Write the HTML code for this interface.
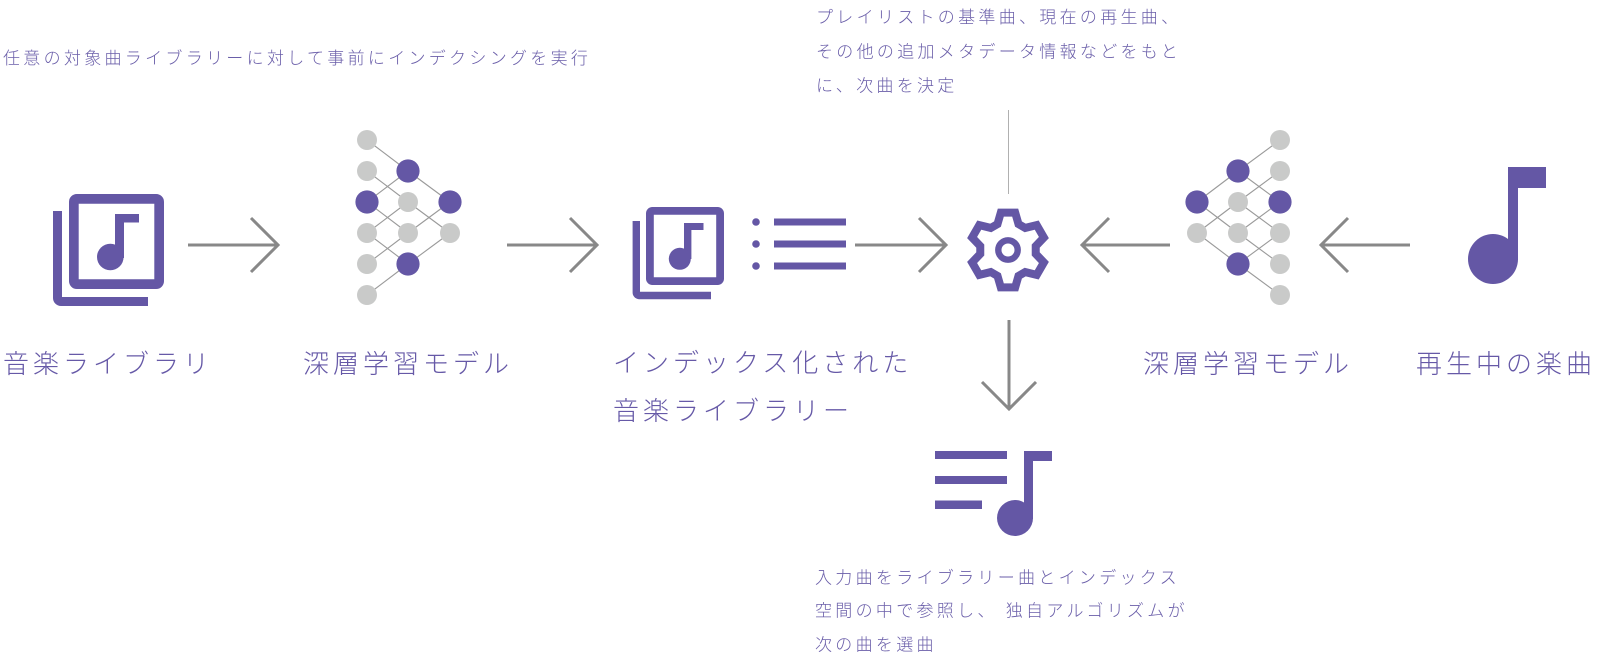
<!DOCTYPE html>
<html>
<head>
<meta charset="utf-8">
<style>
  html, body { margin: 0; padding: 0; background: #ffffff; }
  body { width: 1598px; height: 662px; overflow: hidden; }
  svg { display: block; }
  .s { font-family: "Liberation Sans", "Noto Sans CJK JP", sans-serif; font-size: 17px; letter-spacing: 3.3px; fill: #6a5ea9; font-weight: 300; }
  .b { font-family: "Liberation Sans", "Noto Sans CJK JP", sans-serif; font-size: 26px; letter-spacing: 4px; fill: #6659a7; font-weight: 300; }
</style>
</head>
<body>
<svg width="1598" height="662" viewBox="0 0 1598 662" xmlns="http://www.w3.org/2000/svg">
  <!-- ===== Texts ===== -->
  <text class="s" x="3" y="64">任意の対象曲ライブラリーに対して事前にインデクシングを実行</text>

  <text class="s" x="816" y="23">プレイリストの基準曲、現在の再生曲、</text>
  <text class="s" x="816" y="57.5">その他の追加メタデータ情報などをもと</text>
  <text class="s" x="816" y="91.5">に、次曲を決定</text>

  <text class="s" x="815" y="583.5">入力曲をライブラリー曲とインデックス</text>
  <text class="s" x="815" y="616.5">空間の中で参照し、 独自アルゴリズムが</text>
  <text class="s" x="815" y="650.5">次の曲を選曲</text>

  <text class="b" x="3" y="373">音楽ライブラリ</text>
  <text class="b" x="303" y="373">深層学習モデル</text>
  <text class="b" x="613" y="372">インデックス化された</text>
  <text class="b" x="613" y="420">音楽ライブラリー</text>
  <text class="b" x="1143" y="373">深層学習モデル</text>
  <text class="b" x="1416" y="373">再生中の楽曲</text>

  <!-- ===== Library icon 1 ===== -->
  <g fill="none" stroke="#6457a5">
    <rect x="73.85" y="198.85" width="85.3" height="85.3" rx="3" ry="3" stroke-width="9.7"/>
    <path d="M57.5 211 V298 a3.5 3.5 0 0 0 3.5 3.5 H148" stroke-width="9"/>
  </g>
  <g fill="#6457a5">
    <rect x="115" y="214" width="9" height="44"/>
    <rect x="123" y="214" width="16" height="8.5"/>
    <circle cx="110.3" cy="257" r="13.3"/>
  </g>

  <!-- ===== Library icon 2 ===== -->
  <g fill="none" stroke="#6457a5">
    <rect x="649.9" y="210.9" width="70.2" height="70.2" rx="2.5" ry="2.5" stroke-width="7.8"/>
    <path d="M636.3 221 V292.5 a3 3 0 0 0 3 3 H711" stroke-width="7.4"/>
  </g>
  <g fill="#6457a5">
    <rect x="684" y="223" width="7.4" height="36"/>
    <rect x="690" y="223" width="13.5" height="7"/>
    <circle cx="679.8" cy="258.8" r="11"/>
  </g>

  <!-- ===== List icon ===== -->
  <g fill="#6457a5">
    <circle cx="756" cy="222" r="3.8"/>
    <circle cx="756" cy="244" r="3.8"/>
    <circle cx="756" cy="266" r="3.8"/>
    <rect x="774" y="218.5" width="72" height="7"/>
    <rect x="774" y="240.5" width="72" height="7"/>
    <rect x="774" y="262.5" width="72" height="7"/>
  </g>

  <!-- ===== Gear ===== -->
  <g transform="translate(1008,250)" fill="none" stroke="#6457a5">
    <polygon stroke-width="8" stroke-linejoin="miter" stroke-miterlimit="4"
      points="-10.49,-25.96 -7.19,-37.32 7.19,-37.32 10.49,-25.96
              17.24,-22.06 28.72,-24.88 35.91,-12.43 27.73,-3.90
              27.73,3.90 35.91,12.43 28.72,24.88 17.24,22.06
              10.49,25.96 7.19,37.32 -7.19,37.32 -10.49,25.96
              -17.24,22.06 -28.72,24.88 -35.91,12.43 -27.73,3.90
              -27.73,-3.90 -35.91,-12.43 -28.72,-24.88 -17.24,-22.06"/>
    <circle cx="0" cy="0" r="9.7" stroke-width="6.4"/>
  </g>

  <!-- thin vertical line above gear -->
  <line x1="1008.5" y1="110" x2="1008.5" y2="194" stroke="#b0b0b0" stroke-width="1"/>

  <!-- ===== Playlist icon ===== -->
  <g fill="#6457a5">
    <rect x="935" y="451" width="72" height="8"/>
    <rect x="935" y="476" width="72" height="8"/>
    <rect x="935" y="500.5" width="47" height="8.5"/>
    <rect x="1024" y="451" width="9" height="68"/>
    <rect x="1032" y="451" width="20" height="10"/>
    <circle cx="1015" cy="518" r="18"/>
  </g>

  <!-- ===== Single note icon ===== -->
  <g fill="#6457a5">
    <rect x="1508" y="167" width="10" height="93"/>
    <rect x="1517" y="167" width="29" height="21"/>
    <circle cx="1493" cy="259" r="25"/>
  </g>

  <!-- ===== Arrows ===== -->
  <g fill="none" stroke="#888888" stroke-width="3" stroke-linecap="butt" stroke-linejoin="miter">
    <line x1="188" y1="245" x2="278" y2="245"/>
    <polyline points="251,218 278,245 251,272"/>
    <line x1="507" y1="245" x2="597" y2="245"/>
    <polyline points="570,218 597,245 570,272"/>
    <line x1="855" y1="245" x2="946" y2="245"/>
    <polyline points="919,218 946,245 919,272"/>
    <line x1="1082" y1="245" x2="1170" y2="245"/>
    <polyline points="1109,218 1082,245 1109,272"/>
    <line x1="1321" y1="245" x2="1410" y2="245"/>
    <polyline points="1348,218 1321,245 1348,272"/>
    <line x1="1009" y1="320" x2="1009" y2="409"/>
    <polyline points="982,382 1009,409 1036,382"/>
  </g>

  <!-- ===== Neural net 1 ===== -->
  <g stroke="#9a9a9a" stroke-width="1.1">
    <line x1="367" y1="140" x2="408" y2="171"/>
    <line x1="367" y1="171" x2="408" y2="202"/>
    <line x1="367" y1="202" x2="408" y2="171"/>
    <line x1="367" y1="202" x2="408" y2="233"/>
    <line x1="367" y1="233" x2="408" y2="202"/>
    <line x1="367" y1="233" x2="408" y2="264"/>
    <line x1="367" y1="264" x2="408" y2="233"/>
    <line x1="367" y1="295" x2="408" y2="264"/>
    <line x1="408" y1="171" x2="450" y2="202"/>
    <line x1="408" y1="202" x2="450" y2="233"/>
    <line x1="408" y1="233" x2="450" y2="202"/>
    <line x1="408" y1="264" x2="450" y2="233"/>
  </g>
  <g fill="#c9cac9">
    <circle cx="367" cy="140" r="10"/>
    <circle cx="367" cy="171" r="10"/>
    <circle cx="367" cy="233" r="10"/>
    <circle cx="367" cy="264" r="10"/>
    <circle cx="367" cy="295" r="10"/>
    <circle cx="408" cy="202" r="10"/>
    <circle cx="408" cy="233" r="10"/>
    <circle cx="450" cy="233" r="10"/>
  </g>
  <g fill="#6457a5">
    <circle cx="367" cy="202" r="11.6"/>
    <circle cx="408" cy="171" r="11.6"/>
    <circle cx="408" cy="264" r="11.6"/>
    <circle cx="450" cy="202" r="11.6"/>
  </g>

  <!-- ===== Neural net 2 (mirrored) ===== -->
  <g stroke="#9a9a9a" stroke-width="1.1">
    <line x1="1280" y1="140" x2="1238" y2="171"/>
    <line x1="1280" y1="171" x2="1238" y2="202"/>
    <line x1="1280" y1="202" x2="1238" y2="171"/>
    <line x1="1280" y1="202" x2="1238" y2="233"/>
    <line x1="1280" y1="233" x2="1238" y2="202"/>
    <line x1="1280" y1="233" x2="1238" y2="264"/>
    <line x1="1280" y1="264" x2="1238" y2="233"/>
    <line x1="1280" y1="295" x2="1238" y2="264"/>
    <line x1="1238" y1="171" x2="1197" y2="202"/>
    <line x1="1238" y1="202" x2="1197" y2="233"/>
    <line x1="1238" y1="233" x2="1197" y2="202"/>
    <line x1="1238" y1="264" x2="1197" y2="233"/>
  </g>
  <g fill="#c9cac9">
    <circle cx="1280" cy="140" r="10"/>
    <circle cx="1280" cy="171" r="10"/>
    <circle cx="1280" cy="233" r="10"/>
    <circle cx="1280" cy="264" r="10"/>
    <circle cx="1280" cy="295" r="10"/>
    <circle cx="1238" cy="202" r="10"/>
    <circle cx="1238" cy="233" r="10"/>
    <circle cx="1197" cy="233" r="10"/>
  </g>
  <g fill="#6457a5">
    <circle cx="1280" cy="202" r="11.6"/>
    <circle cx="1238" cy="171" r="11.6"/>
    <circle cx="1238" cy="264" r="11.6"/>
    <circle cx="1197" cy="202" r="11.6"/>
  </g>
</svg>
</body>
</html>
